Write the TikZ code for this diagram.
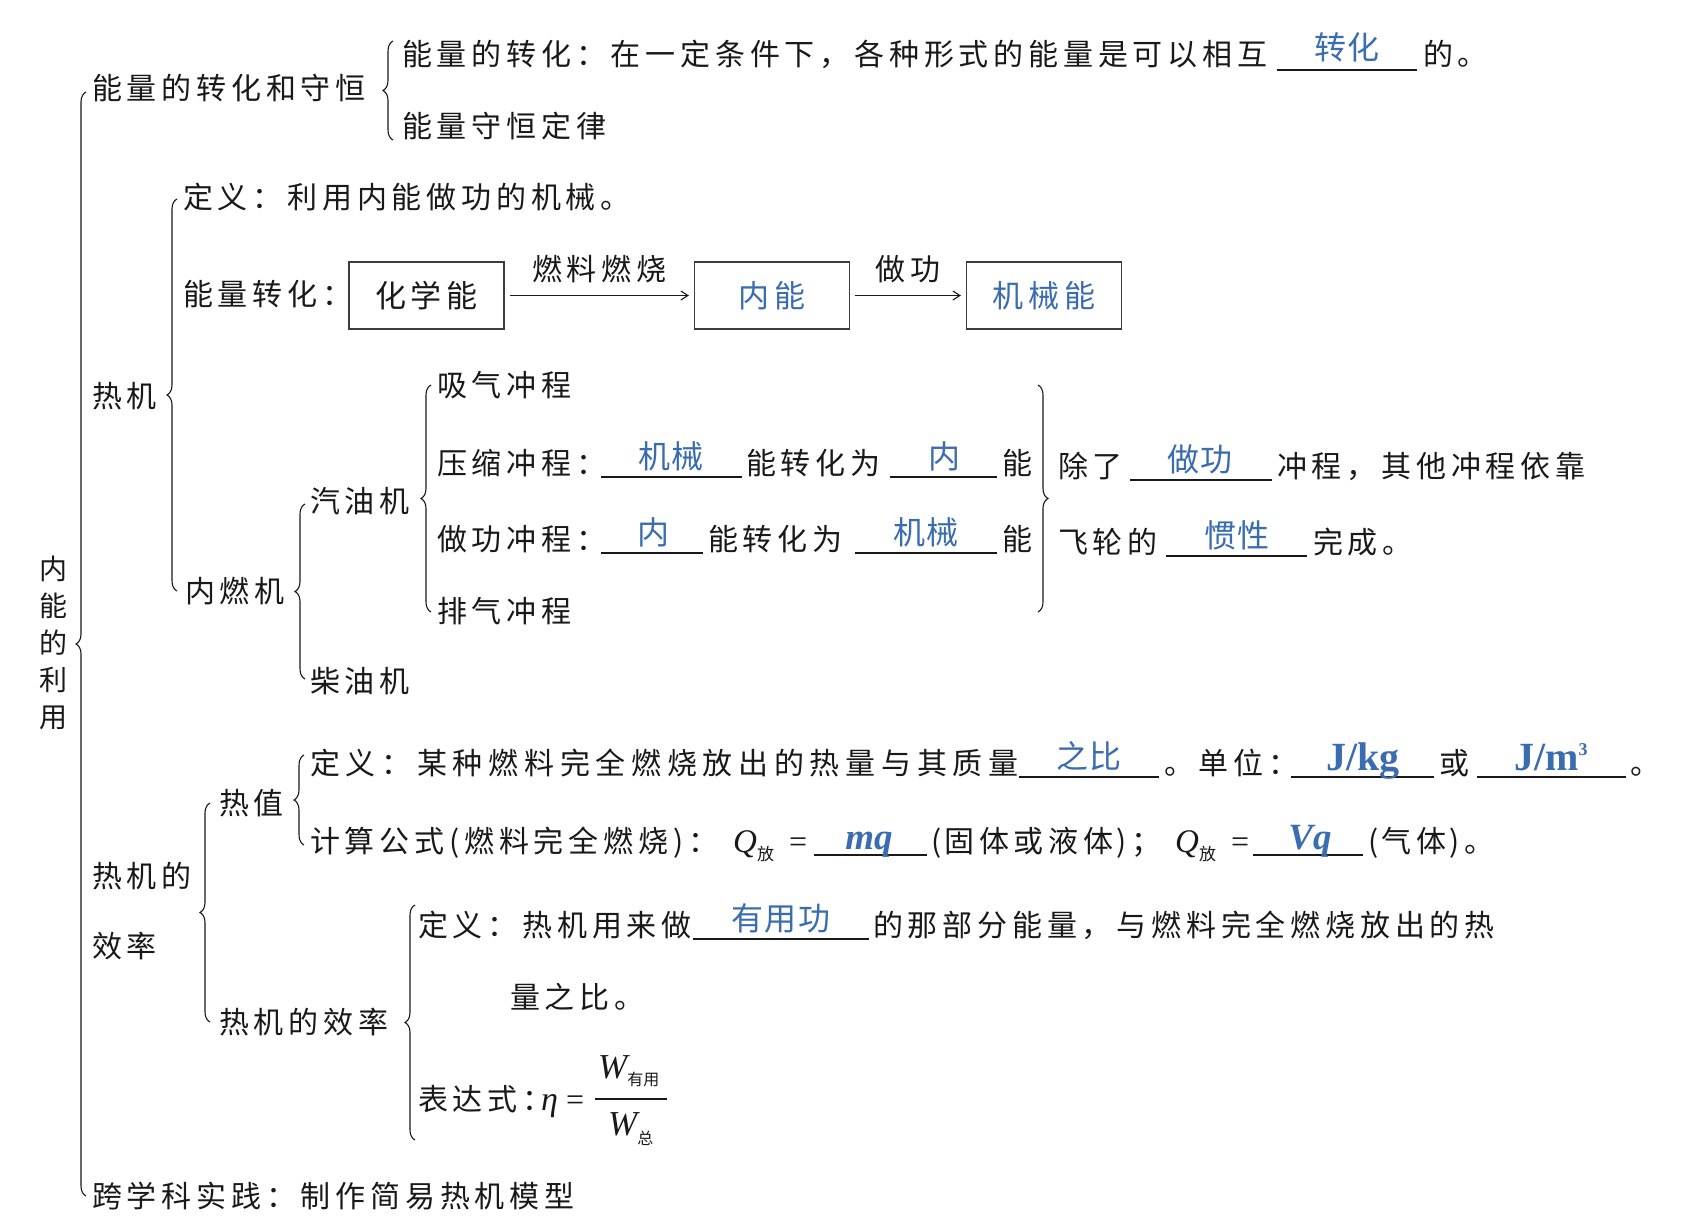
\documentclass[tikz,border=0pt]{standalone}
\usepackage{fontspec}
\setmainfont{Liberation Serif}
\newfontfamily\zh[LetterSpace=16]{Noto Sans CJK SC}
\newfontfamily\zhw[LetterSpace=19]{Noto Sans CJK SC}
\newfontfamily\zhp{Noto Sans CJK SC}
\newfontfamily\zha[LetterSpace=5]{Noto Sans CJK SC}
\usetikzlibrary{decorations.pathreplacing,arrows.meta}
\definecolor{ink}{RGB}{25,25,25}
\definecolor{ans}{RGB}{58,108,176}
\tikzset{
  txt/.style={anchor=base west, inner sep=0pt, text=ink, font=\zh\fontsize{30}{36}\selectfont},
  txtw/.style={txt, font=\zhw\fontsize{30}{36}\selectfont},
  vert/.style={align=center, inner sep=0pt, text=ink, font=\zhp\fontsize{28}{37}\selectfont},
  ansz/.style={anchor=base, inner sep=0pt, text=ans, font=\zha\fontsize{32}{36}\selectfont},
  ansl/.style={anchor=base, inner sep=0pt, text=ans, font=\fontsize{40}{44}\selectfont\bfseries},
  ansi/.style={anchor=base, inner sep=0pt, text=ans, font=\fontsize{37}{40}\selectfont\bfseries\itshape},
  qst/.style={anchor=base west, inner sep=0pt, text=ink, font=\fontsize{33}{36}\selectfont\itshape},
  mth/.style={anchor=base west, inner sep=0pt, text=ink, font=\fontsize{32}{36}\selectfont},
  blank/.style={draw=ink, line width=1.2pt},
  brc/.style={draw=ink, line width=1.1pt, decorate, decoration={brace, amplitude=10pt, aspect=0.5}},
  ebox/.style={draw=ink!85, line width=1.2pt, minimum width=155pt, minimum height=67pt, inner sep=0pt,
    text=ink, font=\zh\fontsize{31}{36}\selectfont},
  arr/.style={draw=ink, line width=1.1pt, -{Straight Barb[length=7pt,width=9pt]}, shorten <=5pt, shorten >=5pt},
  lbl/.style={inner sep=0pt, text=ink, font=\zh\fontsize{30}{36}\selectfont},
}
\newcommand{\zsub}[3]{\raisebox{#1}{\zhp\upshape\fontsize{#2}{#2}\selectfont #3}}
\begin{document}
\begin{tikzpicture}[x=1pt,y=-1pt]
\useasboundingbox (0,0) rectangle (1690,1226);
\fill[white] (0,0) rectangle (1690,1226);

% root
\node[vert] (root) at (53,643) {内\\能\\的\\利\\用};
\draw[brc] (86,1196) -- (86,92);

% section 1
\node[txt] (n1) at (92,99) {能量的转化和守恒};
\draw[brc] (393,140) -- (393,41);
\node[txt] (n1a) at (402,65) {能量的转化：在一定条件下，各种形式的能量是可以相互};
\draw[blank] (1277,70) -- (1417,70);
\node[ansz] (a1) at (1347,59) {转化};
\node[txt] (n1a2) at (1423,65) {的。};
\node[txt] (n1b) at (402,137) {能量守恒定律};

% section 2
\node[txt] (n2) at (92,407) {热机};
\draw[brc] (177,591) -- (177,199);
\node[txt] (n2a) at (183,208) {定义：利用内能做功的机械。};
\node[txt] (n2b) at (183,305) {能量转化：};
\node[ebox] (e1) at (426.5,295.5) {化学能};
\node[ebox, text=ans] (e2) at (772,295.5) {内能};
\node[ebox, text=ans] (e3) at (1044,295.5) {机械能};
\draw[arr] (e1) -- node[lbl, above=12pt] (l1) {燃料燃烧} (e2);
\draw[arr] (e2) -- node[lbl, above=12pt] (l2) {做功} (e3);

\node[txt] (n2c) at (185,602) {内燃机};
\draw[brc] (305,679) -- (305,504);
\node[txt] (n2c1) at (310,512) {汽油机};
\node[txt] (n2c2) at (310,692) {柴油机};
\draw[brc] (431,612) -- (431,385);
\node[txt] (s1) at (437,396) {吸气冲程};
\node[txt] (s2) at (437,474) {压缩冲程：};
\draw[blank] (601,477) -- (742,477);
\node[ansz] (a2) at (671,468) {机械};
\node[txt] (s2b) at (746,474) {能转化为};
\draw[blank] (890,477) -- (997,477);
\node[ansz] (a3) at (944,468) {内};
\node[txt] (s2c) at (1002,474) {能};
\node[txt] (s3) at (437,550) {做功冲程：};
\draw[blank] (601,553) -- (703,553);
\node[ansz] (a4) at (653,544) {内};
\node[txt] (s3b) at (708,550) {能转化为};
\draw[blank] (855,553) -- (997,553);
\node[ansz] (a5) at (926,544) {机械};
\node[txt] (s3c) at (1002,550) {能};
\node[txt] (s4) at (437,622) {排气冲程};
\draw[brc] (1038,385) -- (1038,612);
\node[txt] (m1) at (1058,477) {除了};
\draw[blank] (1130,480) -- (1272,480);
\node[ansz] (a6) at (1200,471) {做功};
\node[txt] (m1b) at (1277,477) {冲程，其他冲程依靠};
\node[txt] (m2) at (1058,553) {飞轮的};
\draw[blank] (1166,556) -- (1307,556);
\node[ansz] (a7) at (1237,547) {惯性};
\node[txt] (m2b) at (1313,553) {完成。};

% section 3
\node[txt] (n3) at (92,887) {热机的};
\node[txt] (n3b) at (92,957) {效率};
\draw[brc] (210,1022) -- (210,803);
\node[txt] (h1) at (219,814) {热值};
\draw[brc] (304,845) -- (304,755);
\node[txtw] (h1a) at (310,774) {定义：某种燃料完全燃烧放出的热量与其质量};
\draw[blank] (1019,777) -- (1159,777);
\node[ansz] (a8) at (1089,768) {之比};
\node[txt] (h1a2) at (1164,774) {。单位：};
\draw[blank] (1291,777) -- (1434,777);
\node[ansl] (a9) at (1363,770) {J/kg};
\node[txt] (h1a3) at (1439,774) {或};
\draw[blank] (1477,777) -- (1626,777);
\node[ansl] (a10) at (1551,770) {J/m\raisebox{15pt}{\fontsize{18}{18}\selectfont 3}};
\node[txt] (h1a4) at (1630,774) {。};

\node[txt] (h1b) at (310,852) {计算公式(燃料完全燃烧)：};
\node[qst] (q1) at (733,852) {Q\zsub{-8pt}{17}{放}};
\node[mth] (eq1) at (789,852) {=};
\draw[blank] (814,855) -- (927,855);
\node[ansi] (a11) at (869,849) {mq};
\node[txt] (h1b2) at (931,852) {(\hspace{3pt}固体或液体\hspace{3pt})；};
\node[qst] (q2) at (1175,852) {Q\zsub{-8pt}{17}{放}};
\node[mth] (eq2) at (1231,852) {=};
\draw[blank] (1253,855) -- (1363,855);
\node[ansi] (a12) at (1310,849) {Vq};
\node[txt] (h1b3) at (1368,852) {(\hspace{3pt}气体\hspace{3pt})。};

\node[txt] (h2) at (219,1033) {热机的效率};
\draw[brc] (415,1140) -- (415,905);
\node[txt] (h2a) at (418,936) {定义：热机用来做};
\draw[blank] (693,939) -- (869,939);
\node[ansz] (a13) at (781,930) {有用功};
\node[txt] (h2a2) at (873,936) {的那部分能量，与燃料完全燃烧放出的热};
\node[txt] (h2a3) at (510,1008) {量之比。};
\node[txt] (h2b) at (418,1110) {表达式：};
\node[qst, font=\fontsize{34}{36}\selectfont\itshape] (eta) at (541,1110) {η};
\node[mth] (eq3) at (566,1110) {=};
\node[qst, font=\fontsize{35}{36}\selectfont\itshape] (wn) at (598,1078) {W\zsub{-7pt}{16}{有用}};
\draw[draw=ink, line width=1.2pt] (595,1099) -- (667,1099);
\node[qst, font=\fontsize{35}{36}\selectfont\itshape] (wd) at (608,1135) {W\zsub{-9pt}{16}{总}};

\node[txt] (n4) at (92,1207) {跨学科实践：制作简易热机模型};
\end{tikzpicture}
\end{document}
